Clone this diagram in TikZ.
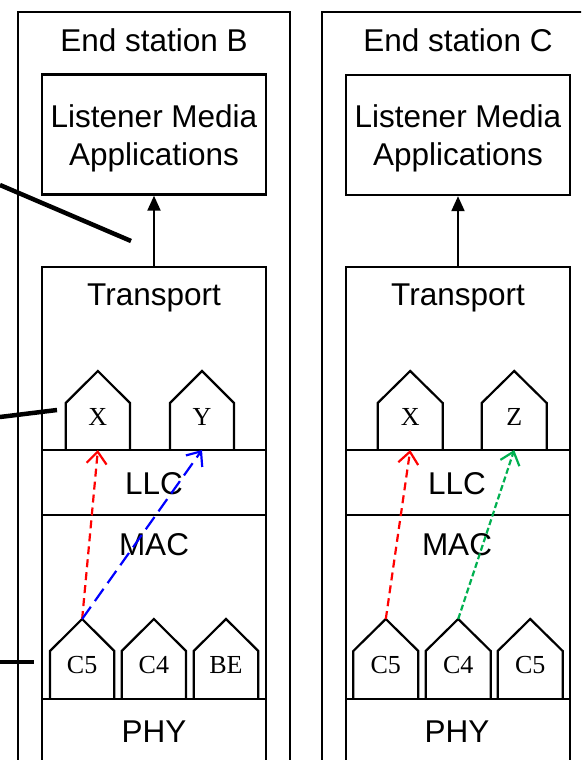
\documentclass[tikz,border=0pt]{standalone}
\usepackage{fontspec}
\setmainfont{Liberation Sans}
\newfontfamily\qfont{Liberation Serif}
\usetikzlibrary{arrows.meta}
\definecolor{flowgreen}{RGB}{0,176,80}
\newcommand{\qhouse}[8]{%
  \draw[line width=2.2pt] (#2,#4) -- (#2,#5) -- ({(#2+#3)/2},#6) -- (#3,#5) -- (#3,#4);
  \coordinate (#1-top) at ({(#2+#3)/2},#6);
  \coordinate (#1-bot) at ({(#2+#3)/2},#4);
  \node[qlbl] (#1) at ({(#2+#3)/2},#7) {#8};}
\begin{document}
\begin{tikzpicture}[x=1pt,y=-1pt,
  box/.style={draw, line width=2.4pt},
  lbl/.style={font=\fontsize{31.5}{37}\selectfont, inner sep=0pt, anchor=base},
  qlbl/.style={font=\qfont\fontsize{26}{30}\selectfont, inner sep=0pt, anchor=base},
  flow/.style={line width=2.2pt, -{Straight Barb[length=12pt,width=20pt,line width=2.2pt]}},
  appbox/.style={draw, line width=2.4pt, minimum width=224pt, minimum height=120pt, inner sep=0pt},
  leader/.style={line width=4.5pt}
 ]
\useasboundingbox (0,0) rectangle (581,760);
\begin{scope}
\clip (0,0) rectangle (581,760);
% outer boxes
\draw[box] (18,12) rectangle (290,800);
\draw[box] (322,12) rectangle (594,800);
\node[lbl] (tb) at (154,52) {End station B};
\node[lbl] (tc) at (458,52) {End station C};
% application boxes
\node[appbox] (appb) at (154,134.5) {};
\node[appbox] (appc) at (458,135) {};
\node[lbl] (appb1) at (154,127.5) {Listener Media};
\node[lbl] (appb2) at (154,165.5) {Applications};
\node[lbl] (appc1) at (458,127.5) {Listener Media};
\node[lbl] (appc2) at (458,165.5) {Applications};
% stacks
\draw[box] (42,267) rectangle (266,800);
\draw[box] (345.7,267) rectangle (570,800);
\foreach \yy in {450,515,699}{
  \draw[line width=2.4pt] (42,\yy) -- (266,\yy);
  \draw[line width=2.4pt] (345.7,\yy) -- (570,\yy);
}
\coordinate (stb) at (154,267);
\coordinate (stc) at (458,267);
\node[lbl] (trb) at (154,305) {Transport};
\node[lbl] (trc) at (458,305) {Transport};
\node[lbl] (llcb) at (154,494.3) {LLC};
\node[lbl] (llcc) at (457,494.3) {LLC};
\node[lbl] (macb) at (154,555) {MAC};
\node[lbl] (macc) at (457,555) {MAC};
\node[lbl] (phyb) at (154,742.3) {PHY};
\node[lbl] (phyc) at (457,742.3) {PHY};
% arrows up to applications
\draw[line width=2.2pt, -{Triangle[length=15pt,width=13pt]}] (stb) -- (appb.south);
\draw[line width=2.2pt, -{Triangle[length=15pt,width=13pt]}] (stc) -- (appc.south);
% houses station B
\qhouse{bx}{65.7}{130}{450}{403}{371}{425}{X}
\qhouse{by}{170}{234}{450}{403}{371}{425}{Y}
\qhouse{bc5}{50}{114.3}{699}{651}{619}{673.3}{C5}
\qhouse{bc4}{121.7}{186}{699}{651}{619}{673.3}{C4}
\qhouse{bbe}{193.7}{258.3}{699}{651}{619}{673.3}{BE}
% houses station C
\qhouse{cx}{377.7}{442.7}{450}{403}{371}{425}{X}
\qhouse{cz}{481.7}{546.7}{450}{403}{371}{425}{Z}
\qhouse{cc5}{353.3}{418.3}{699}{651}{619}{673.3}{C5}
\qhouse{cc4}{425.7}{490.7}{699}{651}{619}{673.3}{C4}
\qhouse{cc5b}{497.7}{562.7}{699}{651}{619}{673.3}{C5}
% flows
\draw[flow, red, dash pattern=on 8pt off 5pt] (bc5-top) -- (bx-bot);
\draw[flow, blue, dash pattern=on 15pt off 7pt] (bc5-top) -- (by-bot);
\draw[flow, red, dash pattern=on 8pt off 5pt] (cc5-top) -- (cx-bot);
\draw[flow, flowgreen, dash pattern=on 6pt off 3pt] (cc4-top) -- (cz-bot);
% leader lines from the left
\coordinate (l1a) at (0,185); \coordinate (l1b) at (131,241);
\coordinate (l2a) at (0,417); \coordinate (l2b) at (57,410);
\coordinate (l3a) at (0,662); \coordinate (l3b) at (34,662);
\draw[leader] (l1a) -- (l1b);
\draw[leader] (l2a) -- (l2b);
\draw[leader] (l3a) -- (l3b);
\end{scope}
\end{tikzpicture}
\end{document}
